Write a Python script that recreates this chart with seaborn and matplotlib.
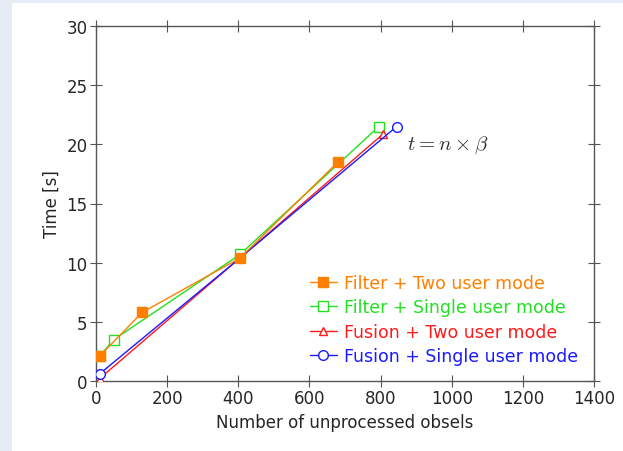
import matplotlib
matplotlib.use("Agg")
import matplotlib.pyplot as plt
import matplotlib.patches as mpatches
import pandas as pd
import seaborn as sns

sns.set_style("ticks")
plt.rcParams["font.family"] = ["DejaVu Sans"]
plt.rcParams["mathtext.fontset"] = "cm"

# data
filter_two_x = [10, 130, 405, 680]
filter_two_y = [2.1, 5.8, 10.4, 18.5]
filter_single_x = [10, 50, 405, 795]
filter_single_y = [2.1, 3.5, 10.7, 21.5]
fusion_two_x = [10, 405, 808]
fusion_two_y = [0.2, 10.4, 20.9]
fusion_single_x = [10, 405, 845]
fusion_single_y = [0.6, 10.4, 21.5]

series = [
    ("Filter + Two user mode", filter_two_x, filter_two_y, "#ff7f00", "s", True),
    ("Filter + Single user mode", filter_single_x, filter_single_y, "#22e022", "s", False),
    ("Fusion + Two user mode", fusion_two_x, fusion_two_y, "#ff1a1a", "^", False),
    ("Fusion + Single user mode", fusion_single_x, fusion_single_y, "#1a1aff", "o", False),
]

fig = plt.figure(figsize=(6.23, 4.52), dpi=100)
fig.patch.set_facecolor("#e6ecf5")
fig.patches.append(mpatches.Rectangle((12 / 623, 0), 1, 1 - 4 / 452,
                                      transform=fig.transFigure,
                                      facecolor="white", edgecolor="none", zorder=-10))
ax = fig.add_axes([96 / 623, 1 - 382 / 452, 498 / 623, 355 / 452])
ax.set_facecolor("white")

for i, (label, xs, ys, color, marker, filled) in enumerate(series):
    df = pd.DataFrame({"x": xs, "y": ys})
    sns.lineplot(data=df, x="x", y="y", ax=ax, color=color, linewidth=1.0,
                 marker=marker, markersize=7 if marker != "^" else 6,
                 markerfacecolor=color if filled else "white",
                 markeredgecolor=color, markeredgewidth=1.0, label=label,
                 zorder=6 if filled else 3 + i * 0.1)

ax.set_xlim(0, 1400)
ax.set_ylim(0, 30)
ax.set_xticks(range(0, 1401, 200))
ax.set_yticks(range(0, 31, 5))
ax.tick_params(direction="inout", length=8, width=0.8, color="#555555",
               top=True, right=True, labelsize=12, pad=2)
for s in ax.spines.values():
    s.set_color("#555555")
    s.set_linewidth(1.0)
ax.set_xlabel("Number of unprocessed obsels", fontsize=12)
ax.set_ylabel("Time [s]", fontsize=12)

ax.text(874, 20, r"$t = n \times \beta$", fontsize=15, color="#333333", va="center")

leg = ax.legend(loc="lower right", frameon=False, fontsize=12.5,
                handlelength=1.6, handletextpad=0.4, labelspacing=0.38,
                borderaxespad=0.5)
for text, (_, _, _, color, _, _) in zip(leg.get_texts(), series):
    text.set_color(color)

fig.savefig("out.png", dpi=100, facecolor=fig.get_facecolor())
